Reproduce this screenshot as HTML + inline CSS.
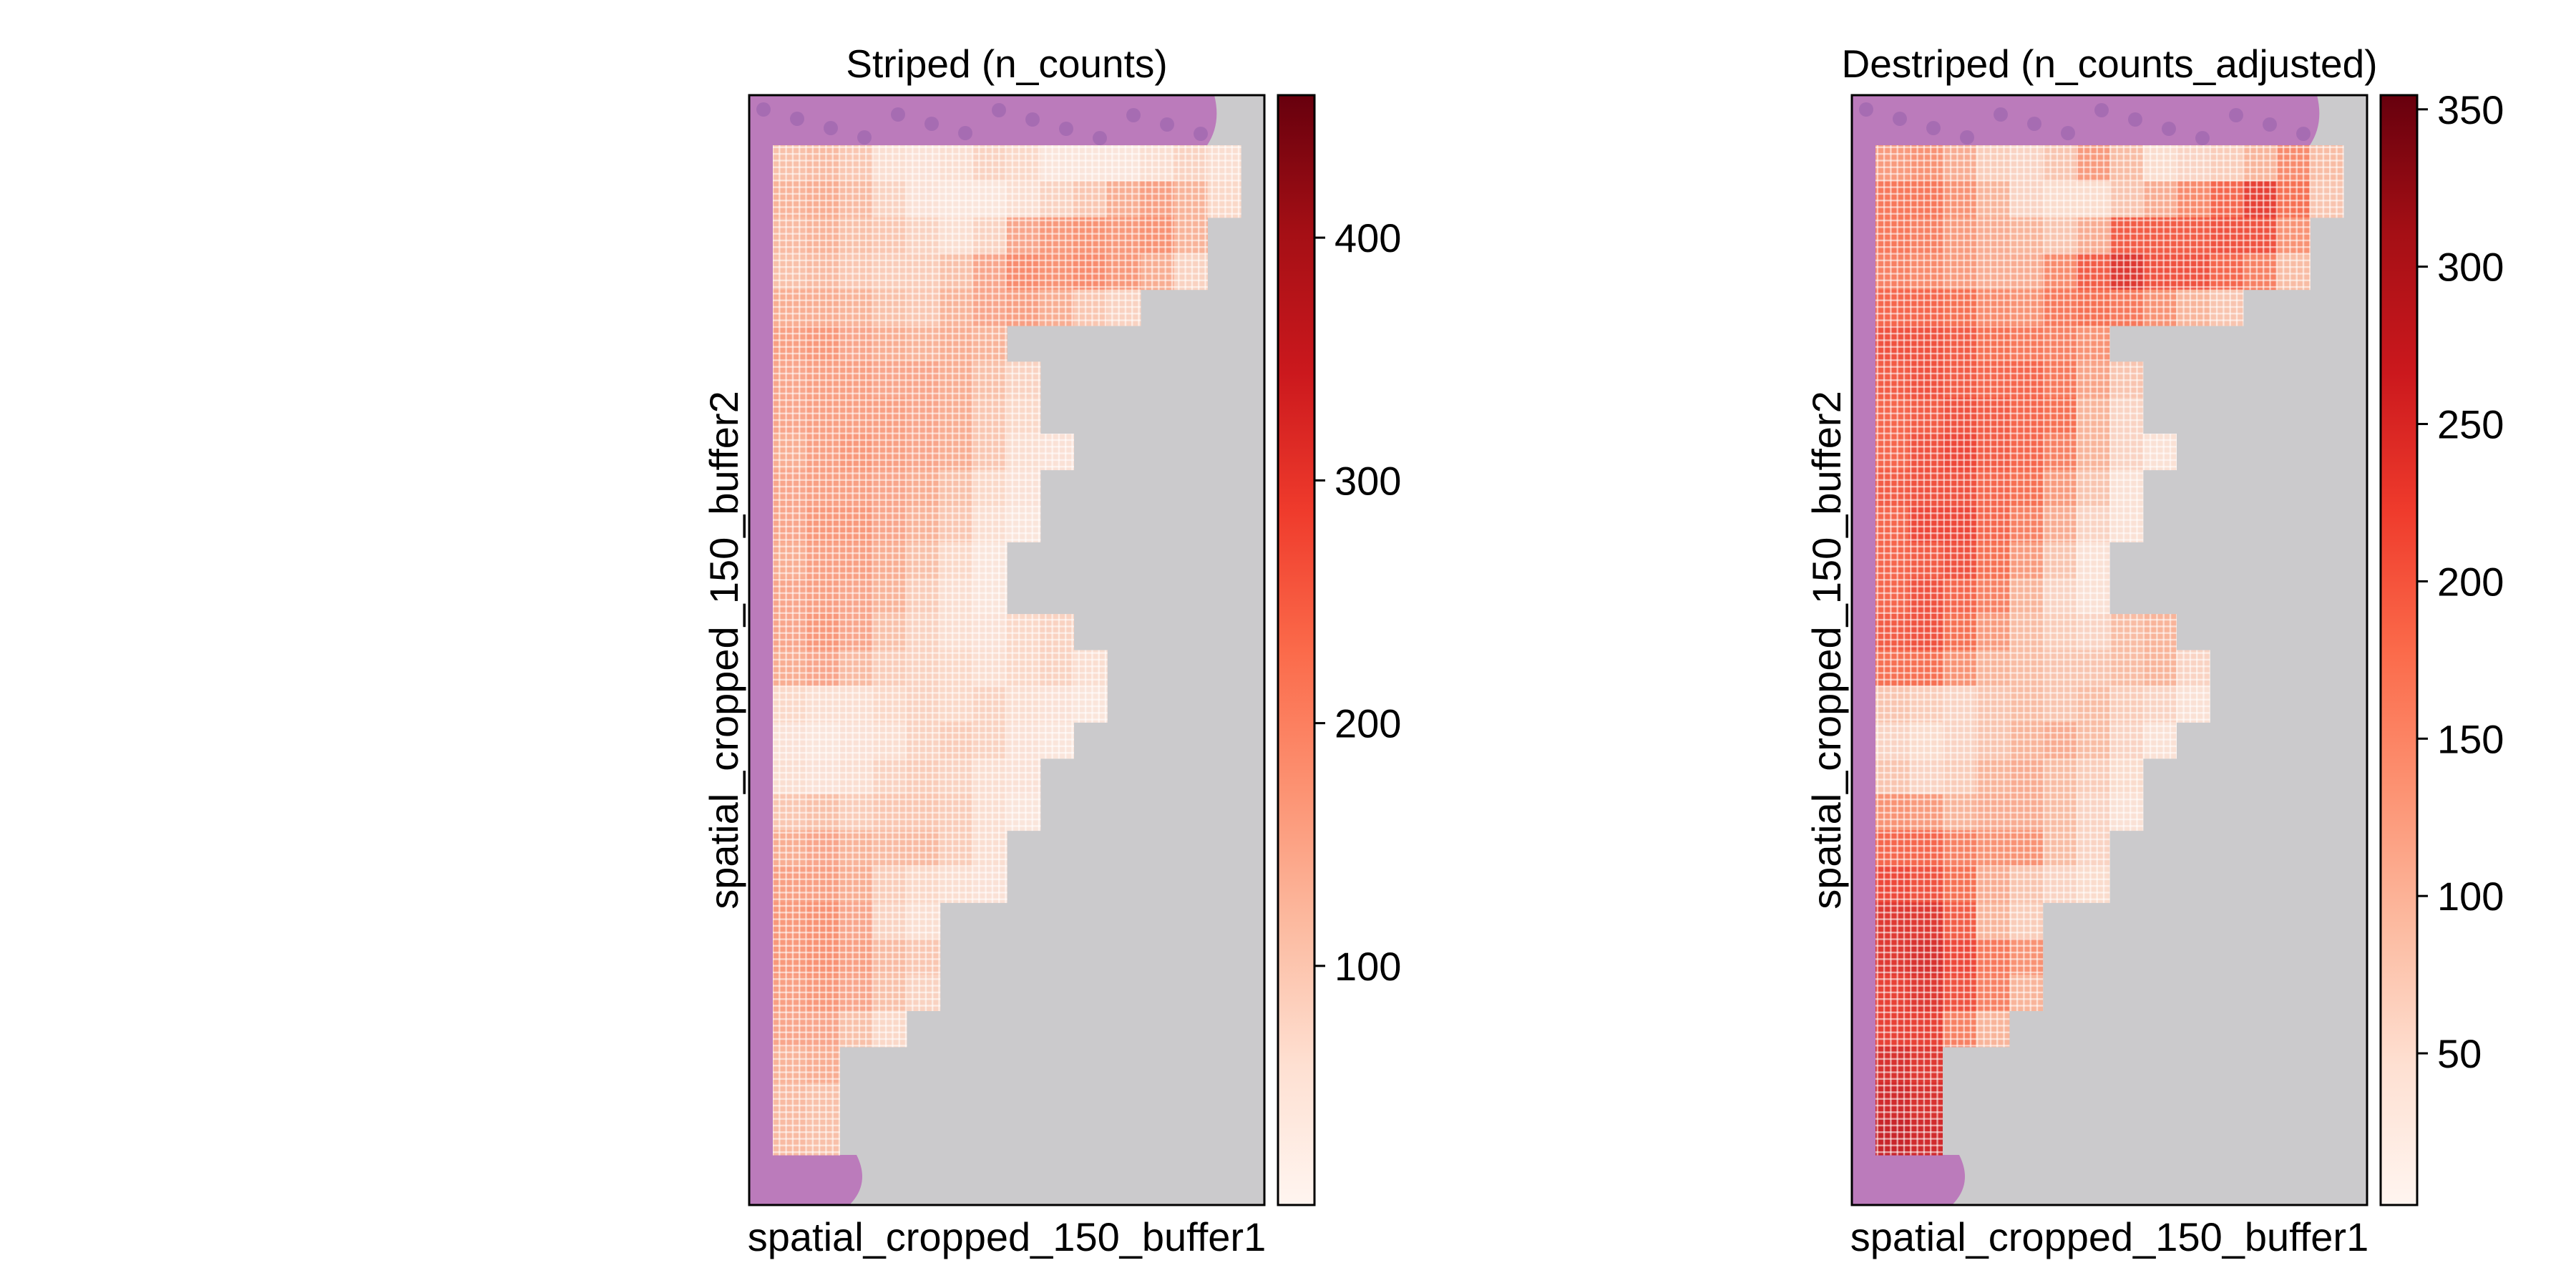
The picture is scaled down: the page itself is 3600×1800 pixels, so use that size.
<!DOCTYPE html>
<html><head><meta charset="utf-8"><style>
html,body{margin:0;padding:0;background:#fff}
svg{display:block}
text{font-family:"Liberation Sans",Arial,sans-serif;fill:#000}
</style></head><body>
<svg id="fig" width="3600" height="1800" viewBox="0 0 3600 1800" xmlns="http://www.w3.org/2000/svg">
<defs>
<pattern id="grid" width="9.3" height="9.3" patternUnits="userSpaceOnUse">
<rect width="9.3" height="2.4" fill="#fff" opacity="0.55"/>
<rect width="2.4" height="9.3" fill="#fff" opacity="0.55"/>
</pattern>
<linearGradient id="reds" x1="0" y1="1" x2="0" y2="0">
<stop offset="0" stop-color="#fff5f0"/><stop offset="0.125" stop-color="#fee0d2"/>
<stop offset="0.25" stop-color="#fcbba1"/><stop offset="0.375" stop-color="#fc9272"/>
<stop offset="0.5" stop-color="#fb6a4a"/><stop offset="0.625" stop-color="#ef3b2c"/>
<stop offset="0.75" stop-color="#cb181d"/><stop offset="0.875" stop-color="#a50f15"/>
<stop offset="1" stop-color="#67000d"/>
</linearGradient>
</defs>
<rect width="3600" height="1800" fill="#fff"/>
<g id="panels"></g>
</svg>
<script>
// Tissue right edges per row (columns filled) — shared spot mask
const rowCounts = [14,14,13,13,11,7,8,8,9,8,8,7,7,9,10,10,9,8,8,7,7,5,5,5,4,2,2,2];
// Striped values (n_counts)
const stripedValues = [
[110,120,100,60,50,60,80,70,40,40,40,60,80,60],
[130,140,120,80,50,40,40,60,80,100,140,160,130,70],
[120,130,110,100,80,60,80,150,170,180,170,180,130],
[110,120,100,90,90,110,150,190,180,190,170,140,80],
[140,140,130,110,100,130,150,160,140,100,80],
[160,170,150,140,130,140,130],
[150,160,160,150,150,140,110,80],
[150,160,160,160,150,140,100,70],
[140,160,170,160,150,140,100,60,50],
[150,160,160,150,140,110,70,50],
[150,170,170,150,130,100,60,40],
[140,160,160,140,110,70,40],
[150,160,150,130,90,60,40],
[150,170,150,110,80,60,50,70,80],
[140,150,120,90,80,70,60,70,80,60],
[70,60,60,70,80,70,80,60,50,40],
[50,40,50,60,80,90,80,50,40],
[60,50,60,80,90,80,60,50],
[100,110,90,100,100,90,60,40],
[140,150,130,120,120,90,60],
[160,160,140,90,70,60,50],
[170,180,150,80,60],
[170,180,160,120,100],
[160,170,150,110,80],
[150,150,110,70],
[130,140],[120,110],[120,110]];
// Destriped values (n_counts_adjusted)
const destripedValues = [
[130,140,110,70,60,80,130,90,50,60,70,100,150,90],
[170,170,140,100,60,50,50,80,110,150,190,230,180,80],
[170,160,130,110,100,80,110,200,200,200,210,210,140],
[160,150,130,110,110,150,200,240,210,210,190,160,90],
[190,190,180,150,140,170,180,170,140,100,80],
[210,210,200,180,170,160,140],
[200,210,200,190,190,170,120,80],
[190,200,210,200,190,180,100,60],
[190,210,220,200,190,160,100,60,40],
[200,210,210,190,180,130,80,40],
[190,220,220,190,160,110,60,40],
[190,200,210,180,130,80,40],
[190,210,190,160,100,60,40],
[200,210,180,130,90,70,60,90,100],
[180,180,140,100,90,80,80,90,100,60],
[80,70,60,80,90,80,90,70,60,40],
[60,50,60,80,100,110,90,60,40],
[80,60,70,100,110,90,70,50],
[140,130,100,110,110,90,60,40],
[190,190,160,140,140,90,60],
[220,210,180,110,80,60,50],
[240,240,200,100,70],
[240,250,220,170,140],
[230,240,210,160,100],
[230,230,160,100],
[250,240],[260,250],[270,260]];
const stripedTicks = [100,200,300,400];
const destripedTicks = [50,100,150,200,250,300,350];
const stripedRange = [1.5,458.7];
const destripedRange = [1.8,354.5];
const titles = ["Striped (n_counts)","Destriped (n_counts_adjusted)"];

const NS="http://www.w3.org/2000/svg";
const stops=[[255,245,240],[254,224,210],[252,187,161],[252,146,114],[251,106,74],[239,59,44],[203,24,29],[165,15,21],[103,0,13]];
function reds(t){t=Math.max(0,Math.min(1,t));const p=t*8,i=Math.min(7,Math.floor(p)),f=p-i;const a=stops[i],b=stops[i+1];
return `rgb(${a.map((v,k)=>Math.round(v+(b[k]-v)*f)).join(',')})`;}
function mk(tag,attrs,parent){const e=document.createElementNS(NS,tag);for(const k in attrs)e.setAttribute(k,attrs[k]);parent.appendChild(e);return e;}
const root=document.getElementById('panels');

function panel(px,vals,range,ticks,title,key){
  const ax={x:px,y:133,w:720,h:1551};
  const sx0=px+33, sy0=203, cw=654/14, rh=1411/28;
  const g=mk('g',{},root);
  
  const bg=mk('rect',{x:ax.x,y:ax.y,width:ax.w,height:ax.h,fill:'#cbcacc'},g);
  
  const tis=mk('path',{d:`M${ax.x} ${ax.y} H${ax.x+650} Q${ax.x+660} ${ax.y+40} ${ax.x+640} ${sy0} H${sx0} V${sy0+1411} H${px+150} Q${px+170} ${ax.y+ax.h-30} ${px+140} ${ax.y+ax.h} H${ax.x} Z`,fill:'#bb7bbb'},g);
  
  for(let i=0;i<14;i++){const c=mk('circle',{cx:px+20+(i*47)%640,cy:ax.y+20+(i*13)%45,r:10,fill:'#8f5aa8',opacity:0.45},g);
    }
  const cells=mk('g',{},g);
  
  vals.forEach((row,r)=>{const n=rowCounts[r];for(let c=0;c<n;c++){const v=row[c]!==undefined?row[c]:40;
    const t=(v-range[0])/(range[1]-range[0]);
    const el=mk('rect',{x:(sx0+c*cw).toFixed(1),y:(sy0+r*rh).toFixed(1),width:(cw+0.6).toFixed(1),height:(rh+0.6).toFixed(1),fill:reds(t),opacity:0.92},cells);
    
    const ov=mk('rect',{x:(sx0+c*cw).toFixed(1),y:(sy0+r*rh).toFixed(1),width:(cw+0.6).toFixed(1),height:(rh+0.6).toFixed(1),fill:'url(#grid)'},cells);
    }});
  const fr=mk('rect',{x:ax.x,y:ax.y,width:ax.w,height:ax.h,fill:'none',stroke:'#000','stroke-width':3},g);
  
  const tt=mk('text',{x:ax.x+ax.w/2,y:108,'text-anchor':'middle','font-size':55},g);tt.textContent=title;
  
  const xl=mk('text',{x:ax.x+ax.w/2,y:1748,'text-anchor':'middle','font-size':56},g);xl.textContent='spatial_cropped_150_buffer1';
  
  const yl=mk('text',{x:0,y:0,'text-anchor':'middle','font-size':56,transform:`translate(${ax.x-16},${ax.y+ax.h/2}) rotate(-90)`},g);yl.textContent='spatial_cropped_150_buffer2';
  
  const cb={x:ax.x+ax.w+19,y:ax.y,w:51,h:ax.h};
  const cbg=mk('g',{},g);
  mk('rect',{x:cb.x,y:cb.y,width:cb.w,height:cb.h,fill:'url(#reds)',stroke:'#000','stroke-width':3},cbg);
  ticks.forEach(v=>{const y=cb.y+cb.h-(v-range[0])/(range[1]-range[0])*cb.h;
    const tk=mk('line',{x1:cb.x+cb.w,x2:cb.x+cb.w+15,y1:y,y2:y,stroke:'#000','stroke-width':3},cbg);
    
    const tl=mk('text',{x:cb.x+cb.w+28,y:y+20,'font-size':56},cbg);tl.textContent=v;
    });
}
panel(1047,stripedValues,stripedRange,stripedTicks,titles[0],'striped');
panel(2588,destripedValues,destripedRange,destripedTicks,titles[1],'destriped');
</script>
</body></html>
